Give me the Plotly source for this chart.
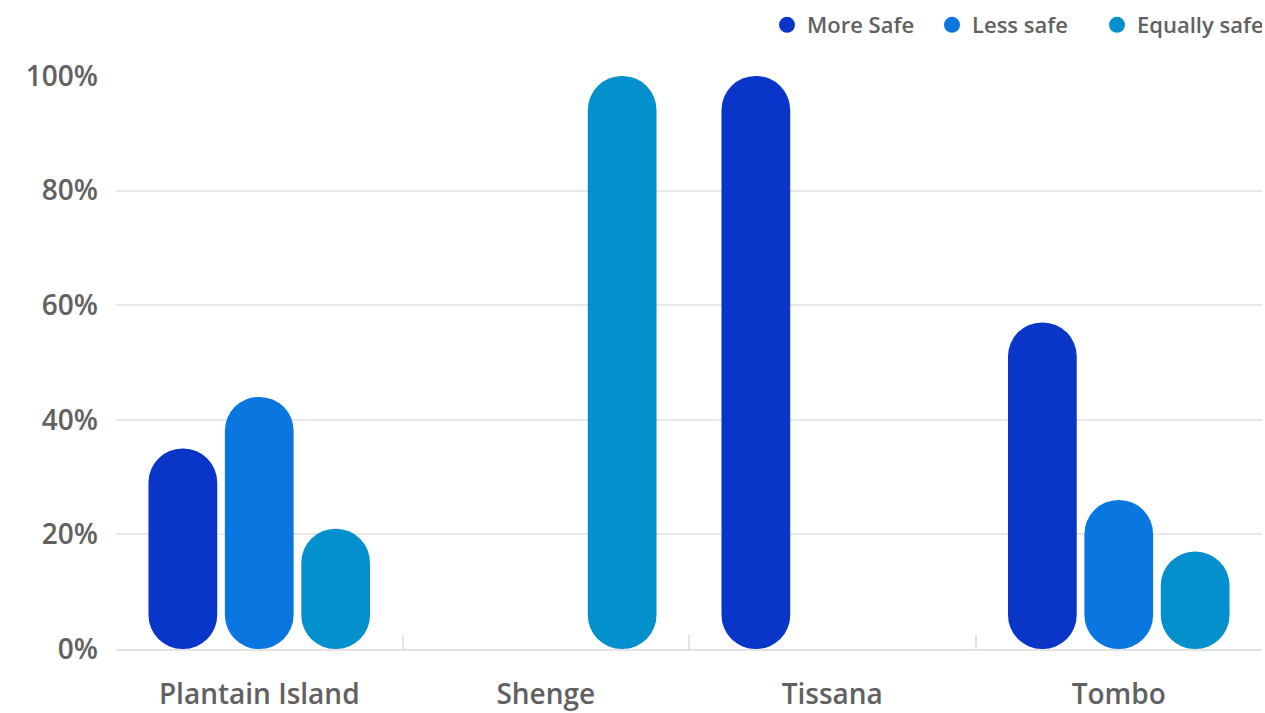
import plotly.graph_objects as go

# Survey: perceived safety by community
categories = ["Plantain Island", "Shenge", "Tissana", "Tombo"]
more_safe = [35, 0, 100, 57]
less_safe = [44, 0, 0, 26]
equally_safe = [21, 100, 0, 17]

series = [
    ("More Safe", more_safe, "#0936C8"),
    ("Less safe", less_safe, "#0A77E0"),
    ("Equally safe", equally_safe, "#0390CC"),
]

FONT = "Open Sans"
GREY = "#616161"

fig = go.Figure()

# Pill-shaped bars: an explicit base gives rounding at both ends
for i, (name, vals, color) in enumerate(series):
    fig.add_trace(go.Bar(
        x=categories, y=vals, base=[0] * len(vals),
        marker=dict(color=color, line=dict(width=0)),
        offsetgroup=str(i), showlegend=False, name=name,
    ))

# Legend entries with round markers
for i, (name, vals, color) in enumerate(series):
    fig.add_trace(go.Scatter(
        x=[None], y=[None], mode="markers", name=name,
        marker=dict(symbol="circle", size=18, color=color),
    ))

fig.update_layout(
    width=1265, height=713,
    margin=dict(l=116, r=3, t=76, b=64),
    plot_bgcolor="white", paper_bgcolor="white",
    barmode="group", bargap=0.2, bargroupgap=0.1,
    barcornerradius="50%",
    font=dict(family=FONT, color=GREY),
    legend=dict(
        orientation="h", x=1.0, xanchor="right",
        yref="container", y=(713 - 25) / 713, yanchor="middle",
        font=dict(size=22, family=FONT, color=GREY, weight=600),
        itemsizing="trace", bgcolor="rgba(0,0,0,0)",
        entrywidth=120, entrywidthmode="pixels",
    ),
    xaxis=dict(
        type="category", showgrid=False, zeroline=False, automargin=False,
        showline=True, linecolor="#e3e3e3", linewidth=2,
        ticks="inside", ticklen=14, tickwidth=2, tickcolor="#e3e3e3",
        tickson="boundaries",
        tickfont=dict(size=28, family=FONT, color=GREY, weight=600),
        ticklabelstandoff=19,
    ),
    yaxis=dict(
        range=[0, 100], dtick=20, ticksuffix="%", automargin=False,
        showgrid=True, gridcolor="#e8e8e8", gridwidth=2,
        zeroline=False, showline=False,
        tickfont=dict(size=28, family=FONT, color=GREY, weight=600),
        ticklabelstandoff=17,
    ),
)

fig.write_html("out.html")
